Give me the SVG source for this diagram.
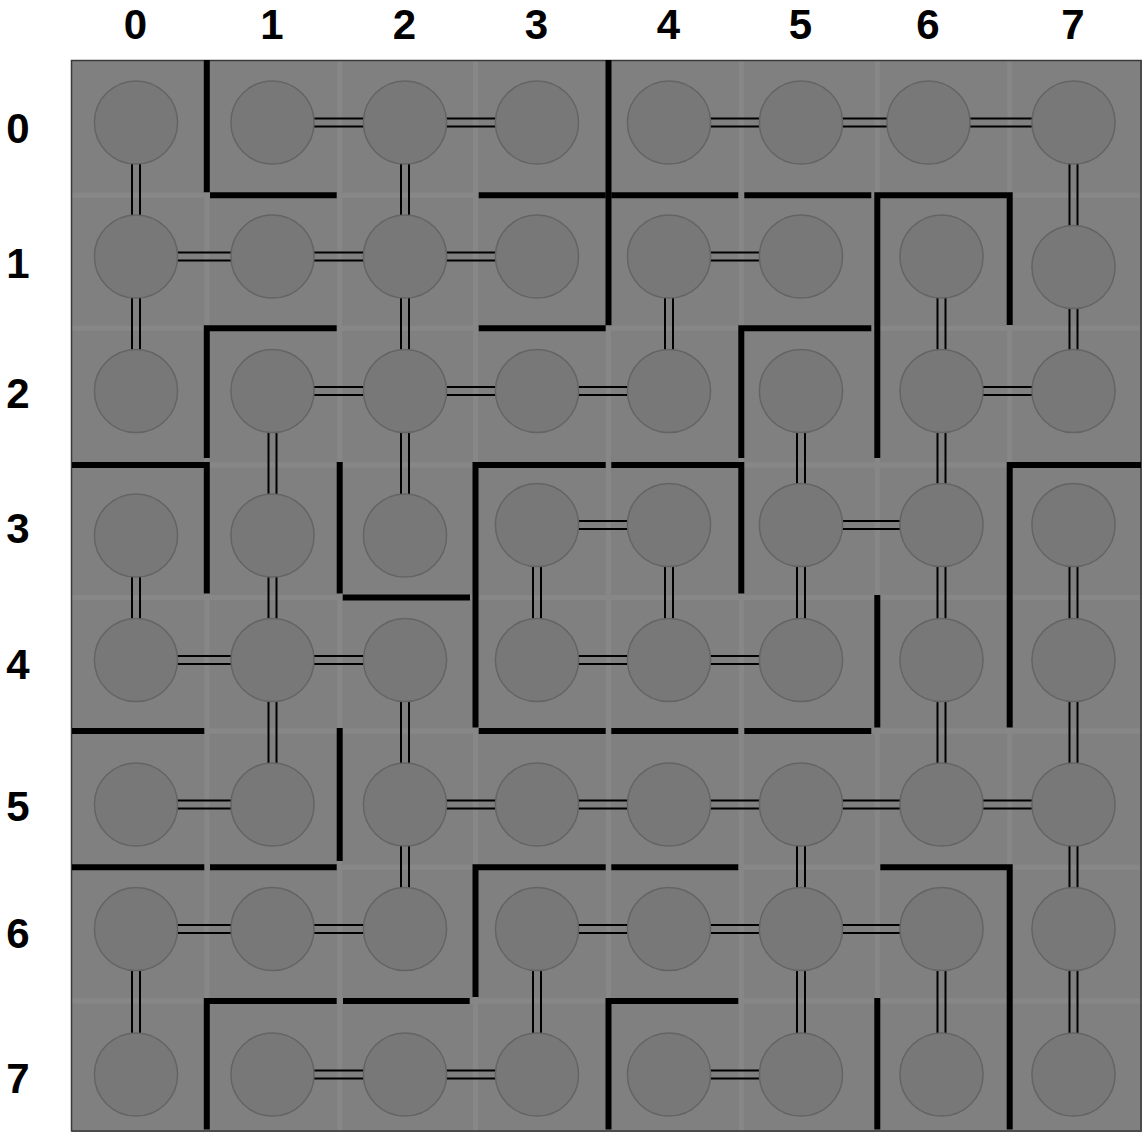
<svg xmlns="http://www.w3.org/2000/svg" width="1142" height="1132" viewBox="0 0 1142 1132">
<style>
.lbl{font-family:"Liberation Sans",Arial,sans-serif;font-weight:bold;font-size:42px;fill:#000;text-anchor:middle}
.strip{stroke:#878787;stroke-width:5;fill:none}
.nd{fill:#787878;stroke:#646464;stroke-width:1.5}
.cn{stroke:#000;stroke-width:2;fill:none}
.wall{stroke:#000;stroke-width:6;fill:none;stroke-linecap:butt;stroke-linejoin:miter}
</style>
<rect x="0" y="0" width="1142" height="1132" fill="#ffffff"/>
<g id="board">
<rect x="72" y="60" width="1070" height="1072" fill="#808080"/>
<path class="strip" d="M206.8 60V1132M339.7 60V1132M475.5 60V1132M608.5 60V1132M741.3 60V1132M877.3 60V1132M1009.7 60V1132M72 195.2H1142M72 328.3H1142M72 464.9H1142M72 597.5H1142M72 731H1142M72 867.3H1142M72 1001H1142"/>
<rect x="71.5" y="60.5" width="1069.5" height="1070.5" fill="none" stroke="#3a3a3a" stroke-width="1.5"/>
</g>
<g id="labels">
<text class="lbl" x="135.5" y="39">0</text>
<text class="lbl" x="272" y="39">1</text>
<text class="lbl" x="404.5" y="39">2</text>
<text class="lbl" x="536.5" y="39">3</text>
<text class="lbl" x="668.5" y="39">4</text>
<text class="lbl" x="800.5" y="39">5</text>
<text class="lbl" x="928" y="39">6</text>
<text class="lbl" x="1073" y="39">7</text>
<text class="lbl" x="18" y="142.5">0</text>
<text class="lbl" x="18" y="277.5">1</text>
<text class="lbl" x="18" y="407.5">2</text>
<text class="lbl" x="18" y="542.5">3</text>
<text class="lbl" x="18" y="678.5">4</text>
<text class="lbl" x="18" y="820.5">5</text>
<text class="lbl" x="18" y="947.5">6</text>
<text class="lbl" x="18" y="1092.5">7</text>
</g>
<g id="walls">
<path class="wall" d="M206.8 60V192.3"/>
<path class="wall" d="M210 195.2H336.7"/>
<path class="wall" d="M608.5 60V325.3"/>
<path class="wall" d="M478.7 195.2H605.7"/>
<path class="wall" d="M611.3 195.2H738.3"/>
<path class="wall" d="M744.3 195.2H871.3"/>
<path class="wall" d="M877.3 458V195.2H1009.7V325"/>
<path class="wall" d="M336.7 328.3H206.8V458"/>
<path class="wall" d="M478.7 328.3H605.7"/>
<path class="wall" d="M871.3 328.3H741.3V458"/>
<path class="wall" d="M72 464.9H206.8V593.5"/>
<path class="wall" d="M339.7 462V593.5"/>
<path class="wall" d="M342.7 597.5H470"/>
<path class="wall" d="M605.7 464.9H475.5V727.6"/>
<path class="wall" d="M611.3 464.9H741.3V593.5"/>
<path class="wall" d="M1141 464.9H1009.7V727.6"/>
<path class="wall" d="M877.3 595V727.6"/>
<path class="wall" d="M72 731H204.3"/>
<path class="wall" d="M478.7 731H605.7"/>
<path class="wall" d="M611.3 731H738.3"/>
<path class="wall" d="M744.3 731H871.3"/>
<path class="wall" d="M339.7 728V861"/>
<path class="wall" d="M72 867.3H204.3"/>
<path class="wall" d="M210 867.3H336.7"/>
<path class="wall" d="M605.7 867.3H475.5V997"/>
<path class="wall" d="M611.3 867.3H738.3"/>
<path class="wall" d="M880.3 867.3H1009.7V1129.6"/>
<path class="wall" d="M336.7 1001H206.8V1129.6"/>
<path class="wall" d="M343 1001H469.7"/>
<path class="wall" d="M738.3 1001H608.5V1129.6"/>
<path class="wall" d="M877.3 998V1129.6"/>
</g>
<g id="connectors">
<path class="cn" d="M272.5 118.5H405M272.5 126.5H405"/>
<path class="cn" d="M405 118.5H537M405 126.5H537"/>
<path class="cn" d="M669 118.5H801M669 126.5H801"/>
<path class="cn" d="M801 118.5H928.5M801 126.5H928.5"/>
<path class="cn" d="M928.5 118.5H1073.5M928.5 126.5H1073.5"/>
<path class="cn" d="M136 252.5H272.5M136 260.5H272.5"/>
<path class="cn" d="M272.5 252.5H405M272.5 260.5H405"/>
<path class="cn" d="M405 252.5H537M405 260.5H537"/>
<path class="cn" d="M669 252.5H801M669 260.5H801"/>
<path class="cn" d="M272.5 387H405M272.5 395H405"/>
<path class="cn" d="M405 387H537M405 395H537"/>
<path class="cn" d="M537 387H669M537 395H669"/>
<path class="cn" d="M941.5 387H1073.5M941.5 395H1073.5"/>
<path class="cn" d="M537 521H669M537 529H669"/>
<path class="cn" d="M801 521H941.5M801 529H941.5"/>
<path class="cn" d="M136 656H272.5M136 664H272.5"/>
<path class="cn" d="M272.5 656H405M272.5 664H405"/>
<path class="cn" d="M537 656H669M537 664H669"/>
<path class="cn" d="M669 656H801M669 664H801"/>
<path class="cn" d="M136 800.5H272.5M136 808.5H272.5"/>
<path class="cn" d="M405 800.5H537M405 808.5H537"/>
<path class="cn" d="M537 800.5H669M537 808.5H669"/>
<path class="cn" d="M669 800.5H801M669 808.5H801"/>
<path class="cn" d="M801 800.5H941.5M801 808.5H941.5"/>
<path class="cn" d="M941.5 800.5H1073.5M941.5 808.5H1073.5"/>
<path class="cn" d="M136 925H272.5M136 933H272.5"/>
<path class="cn" d="M272.5 925H405M272.5 933H405"/>
<path class="cn" d="M537 925H669M537 933H669"/>
<path class="cn" d="M669 925H801M669 933H801"/>
<path class="cn" d="M801 925H941.5M801 933H941.5"/>
<path class="cn" d="M272.5 1070.5H405M272.5 1078.5H405"/>
<path class="cn" d="M405 1070.5H537M405 1078.5H537"/>
<path class="cn" d="M669 1070.5H801M669 1078.5H801"/>
<path class="cn" d="M132 122.5V256.5M140 122.5V256.5"/>
<path class="cn" d="M132 256.5V391M140 256.5V391"/>
<path class="cn" d="M132 535.5V660M140 535.5V660"/>
<path class="cn" d="M132 929V1074.5M140 929V1074.5"/>
<path class="cn" d="M268.5 391V535.5M276.5 391V535.5"/>
<path class="cn" d="M268.5 535.5V660M276.5 535.5V660"/>
<path class="cn" d="M268.5 660V804.5M276.5 660V804.5"/>
<path class="cn" d="M401 122.5V256.5M409 122.5V256.5"/>
<path class="cn" d="M401 256.5V391M409 256.5V391"/>
<path class="cn" d="M401 391V535.5M409 391V535.5"/>
<path class="cn" d="M401 660V804.5M409 660V804.5"/>
<path class="cn" d="M401 804.5V929M409 804.5V929"/>
<path class="cn" d="M533 525V660M541 525V660"/>
<path class="cn" d="M533 929V1074.5M541 929V1074.5"/>
<path class="cn" d="M665 256.5V391M673 256.5V391"/>
<path class="cn" d="M665 525V660M673 525V660"/>
<path class="cn" d="M797 391V525M805 391V525"/>
<path class="cn" d="M797 525V660M805 525V660"/>
<path class="cn" d="M797 804.5V929M805 804.5V929"/>
<path class="cn" d="M797 929V1074.5M805 929V1074.5"/>
<path class="cn" d="M937.5 256.5V391M945.5 256.5V391"/>
<path class="cn" d="M937.5 391V525M945.5 391V525"/>
<path class="cn" d="M937.5 525V660M945.5 525V660"/>
<path class="cn" d="M937.5 660V804.5M945.5 660V804.5"/>
<path class="cn" d="M937.5 929V1074.5M945.5 929V1074.5"/>
<path class="cn" d="M1069.5 122.5V267M1077.5 122.5V267"/>
<path class="cn" d="M1069.5 267V391M1077.5 267V391"/>
<path class="cn" d="M1069.5 525V660M1077.5 525V660"/>
<path class="cn" d="M1069.5 660V804.5M1077.5 660V804.5"/>
<path class="cn" d="M1069.5 804.5V929M1077.5 804.5V929"/>
<path class="cn" d="M1069.5 929V1074.5M1077.5 929V1074.5"/>
</g>
<g id="nodes">
<g id="n0-0"><circle class="nd" cx="136" cy="122.5" r="41.6"/></g>
<g id="n0-1"><circle class="nd" cx="272.5" cy="122.5" r="41.6"/></g>
<g id="n0-2"><circle class="nd" cx="405" cy="122.5" r="41.6"/></g>
<g id="n0-3"><circle class="nd" cx="537" cy="122.5" r="41.6"/></g>
<g id="n0-4"><circle class="nd" cx="669" cy="122.5" r="41.6"/></g>
<g id="n0-5"><circle class="nd" cx="801" cy="122.5" r="41.6"/></g>
<g id="n0-6"><circle class="nd" cx="928.5" cy="122.5" r="41.6"/></g>
<g id="n0-7"><circle class="nd" cx="1073.5" cy="122.5" r="41.6"/></g>
<g id="n1-0"><circle class="nd" cx="136" cy="256.5" r="41.6"/></g>
<g id="n1-1"><circle class="nd" cx="272.5" cy="256.5" r="41.6"/></g>
<g id="n1-2"><circle class="nd" cx="405" cy="256.5" r="41.6"/></g>
<g id="n1-3"><circle class="nd" cx="537" cy="256.5" r="41.6"/></g>
<g id="n1-4"><circle class="nd" cx="669" cy="256.5" r="41.6"/></g>
<g id="n1-5"><circle class="nd" cx="801" cy="256.5" r="41.6"/></g>
<g id="n1-6"><circle class="nd" cx="941.5" cy="256.5" r="41.6"/></g>
<g id="n1-7"><circle class="nd" cx="1073.5" cy="267" r="41.6"/></g>
<g id="n2-0"><circle class="nd" cx="136" cy="391" r="41.6"/></g>
<g id="n2-1"><circle class="nd" cx="272.5" cy="391" r="41.6"/></g>
<g id="n2-2"><circle class="nd" cx="405" cy="391" r="41.6"/></g>
<g id="n2-3"><circle class="nd" cx="537" cy="391" r="41.6"/></g>
<g id="n2-4"><circle class="nd" cx="669" cy="391" r="41.6"/></g>
<g id="n2-5"><circle class="nd" cx="801" cy="391" r="41.6"/></g>
<g id="n2-6"><circle class="nd" cx="941.5" cy="391" r="41.6"/></g>
<g id="n2-7"><circle class="nd" cx="1073.5" cy="391" r="41.6"/></g>
<g id="n3-0"><circle class="nd" cx="136" cy="535.5" r="41.6"/></g>
<g id="n3-1"><circle class="nd" cx="272.5" cy="535.5" r="41.6"/></g>
<g id="n3-2"><circle class="nd" cx="405" cy="535.5" r="41.6"/></g>
<g id="n3-3"><circle class="nd" cx="537" cy="525" r="41.6"/></g>
<g id="n3-4"><circle class="nd" cx="669" cy="525" r="41.6"/></g>
<g id="n3-5"><circle class="nd" cx="801" cy="525" r="41.6"/></g>
<g id="n3-6"><circle class="nd" cx="941.5" cy="525" r="41.6"/></g>
<g id="n3-7"><circle class="nd" cx="1073.5" cy="525" r="41.6"/></g>
<g id="n4-0"><circle class="nd" cx="136" cy="660" r="41.6"/></g>
<g id="n4-1"><circle class="nd" cx="272.5" cy="660" r="41.6"/></g>
<g id="n4-2"><circle class="nd" cx="405" cy="660" r="41.6"/></g>
<g id="n4-3"><circle class="nd" cx="537" cy="660" r="41.6"/></g>
<g id="n4-4"><circle class="nd" cx="669" cy="660" r="41.6"/></g>
<g id="n4-5"><circle class="nd" cx="801" cy="660" r="41.6"/></g>
<g id="n4-6"><circle class="nd" cx="941.5" cy="660" r="41.6"/></g>
<g id="n4-7"><circle class="nd" cx="1073.5" cy="660" r="41.6"/></g>
<g id="n5-0"><circle class="nd" cx="136" cy="804.5" r="41.6"/></g>
<g id="n5-1"><circle class="nd" cx="272.5" cy="804.5" r="41.6"/></g>
<g id="n5-2"><circle class="nd" cx="405" cy="804.5" r="41.6"/></g>
<g id="n5-3"><circle class="nd" cx="537" cy="804.5" r="41.6"/></g>
<g id="n5-4"><circle class="nd" cx="669" cy="804.5" r="41.6"/></g>
<g id="n5-5"><circle class="nd" cx="801" cy="804.5" r="41.6"/></g>
<g id="n5-6"><circle class="nd" cx="941.5" cy="804.5" r="41.6"/></g>
<g id="n5-7"><circle class="nd" cx="1073.5" cy="804.5" r="41.6"/></g>
<g id="n6-0"><circle class="nd" cx="136" cy="929" r="41.6"/></g>
<g id="n6-1"><circle class="nd" cx="272.5" cy="929" r="41.6"/></g>
<g id="n6-2"><circle class="nd" cx="405" cy="929" r="41.6"/></g>
<g id="n6-3"><circle class="nd" cx="537" cy="929" r="41.6"/></g>
<g id="n6-4"><circle class="nd" cx="669" cy="929" r="41.6"/></g>
<g id="n6-5"><circle class="nd" cx="801" cy="929" r="41.6"/></g>
<g id="n6-6"><circle class="nd" cx="941.5" cy="929" r="41.6"/></g>
<g id="n6-7"><circle class="nd" cx="1073.5" cy="929" r="41.6"/></g>
<g id="n7-0"><circle class="nd" cx="136" cy="1074.5" r="41.6"/></g>
<g id="n7-1"><circle class="nd" cx="272.5" cy="1074.5" r="41.6"/></g>
<g id="n7-2"><circle class="nd" cx="405" cy="1074.5" r="41.6"/></g>
<g id="n7-3"><circle class="nd" cx="537" cy="1074.5" r="41.6"/></g>
<g id="n7-4"><circle class="nd" cx="669" cy="1074.5" r="41.6"/></g>
<g id="n7-5"><circle class="nd" cx="801" cy="1074.5" r="41.6"/></g>
<g id="n7-6"><circle class="nd" cx="941.5" cy="1074.5" r="41.6"/></g>
<g id="n7-7"><circle class="nd" cx="1073.5" cy="1074.5" r="41.6"/></g>
</g>
</svg>
